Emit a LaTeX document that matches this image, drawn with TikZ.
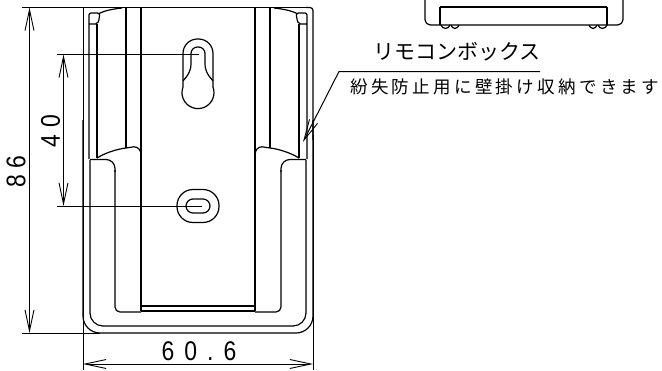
\documentclass[tikz,border=0pt]{standalone}
\usepackage{fontspec}
\setmainfont{Liberation Sans}
\newfontfamily\numfont[LetterSpace=37,FakeStretch=0.85]{Liberation Sans}
\newfontfamily\numtight[LetterSpace=24,FakeStretch=0.85]{Liberation Sans}
\newfontfamily\jpA{Noto Sans CJK JP}
\newfontfamily\jpB[LetterSpace=19]{Noto Sans CJK JP}
\usetikzlibrary{arrows.meta}
\tikzset{
  part/.style={line width=1.2pt,black,line join=round},
  thickpart/.style={line width=2pt,black},
  dimline/.style={line width=1pt,black},
  dimarrow/.style={line width=1pt,black,{Straight Barb[length=21pt,width=9pt,line width=.9pt]}-{Straight Barb[length=21pt,width=9pt,line width=.9pt]}},
  leader/.style={line width=1pt,black,{Straight Barb[length=21pt,width=9pt,line width=.9pt]}-},
  dimtext/.style={font=\fontsize{27}{27}\numfont,inner sep=0pt},
  dimtextv/.style={font=\fontsize{27}{27}\numtight,inner sep=0pt,rotate=90},
  labelA/.style={font=\fontsize{21}{21}\jpA,inner sep=0pt,anchor=west},
  labelB/.style={font=\fontsize{17.5}{17.5}\jpB,inner sep=0pt,anchor=west},
}
\begin{document}
\begin{tikzpicture}[x=1pt,y=-1pt]
\useasboundingbox (0,0) rectangle (662,370);
\fill[white] (0,0) rectangle (662,370);
% coordinates
\coordinate (dimTL) at (29.5,7.5);
\coordinate (dimBL) at (29.5,333);
\coordinate (d40T) at (63.5,54.5);
\coordinate (d40B) at (63.5,206);
\coordinate (wL) at (83,364);
\coordinate (wR) at (313,364);
% extension lines
\draw[dimline] (22,7.5) -- (306,7.5);
\draw[dimline] (22,333) -- (100,333);
\draw[dimline] (57,54.5) -- (199,54.5);
\draw[dimline] (57,206) -- (202,206);
\draw[dimline] (83,7.5) -- (83,370);
\draw[dimline] (313,135) -- (313,370);
% outer body
\draw[part,rounded corners=17pt] (83,120) -- (83,333) -- (313,333) -- (313,120);
\draw[part,rounded corners=3pt] (306,7.5) -- (313,7.5) -- (313,140);
\draw[part,rounded corners=13pt] (90,160) -- (90,326) -- (306,326) -- (306,160);
% inner U
\draw[part,rounded corners=9pt] (90,159.5) -- (115,159.5) -- (115,172);
\draw[part,rounded corners=5pt] (115,170) -- (115,312) -- (141,312);
\draw[part] (141,155) -- (141,311);
\draw[part,rounded corners=9pt] (306,159.5) -- (281,159.5) -- (281,172);
\draw[part,rounded corners=5pt] (281,170) -- (281,312) -- (255,312);
\draw[part] (255,155) -- (255,311);
\draw[part] (141,306) -- (255,306);
\draw[thickpart] (141,310.5) -- (255,310.5);
% upper verticals
\draw[part] (126,7.5) -- (126,148);
\draw[part] (141,7.5) -- (141,155);
\draw[part] (270,7.5) -- (270,148);
\draw[part] (255,7.5) -- (255,155);
% curved shoulders
\draw[part] (97,158) .. controls (105,153) and (117,149) .. (126,148) -- (134,146.8) .. controls (138,146.8) and (141,150) .. (141,155);
\draw[part] (299,158) .. controls (291,153) and (279,149) .. (270,148) -- (262,146.8) .. controls (258,146.8) and (255,150) .. (255,155);
\draw[part] (99,13.5) .. controls (105,10.5) and (113,9) .. (122,8);
\draw[part] (297,13.5) .. controls (291,10.5) and (283,9) .. (274,8);
% side strips left
\draw[part,rounded corners=2pt] (89,159) -- (89,13) -- (99.5,13) -- (99.5,18) -- (97.5,24) -- (89,24);
\draw[thickpart] (97.3,24) -- (97.3,158);
% side strips right
\draw[part,rounded corners=2pt] (307,159) -- (307,13) -- (296.5,13) -- (296.5,18) -- (298.5,24) -- (307,24);
\draw[thickpart] (298.7,24) -- (298.7,158);
% keyhole
\draw[part,rounded corners=14.5pt] (183,87) -- (183,39) -- (213,39) -- (213,87);
\draw[part] (183,87) arc[start angle=159.5,end angle=380.5,radius=16pt];
\draw[part,rounded corners=6.5pt] (183,81) -- (191,71) -- (191,47) -- (205,47) -- (205,71) -- (213,81);
% oval
\draw[part,rounded corners=16pt] (177,189.5) rectangle (219,222.5);
\draw[part,rounded corners=7pt] (186,199) rectangle (210,213);
% upper right unit
\draw[part,rounded corners=6pt] (425,-2) -- (425,25) -- (623,25) -- (623,-2);
\draw[part] (440,7) -- (607,7);
\draw[part] (440,7) -- (440,25);
\draw[part] (607,7) -- (607,25);
\draw[part] (441,25) .. controls (442,29.5) and (449,29.5) .. (450,25);
\draw[part] (451,25) .. controls (452,29.5) and (458,29.5) .. (459,25);
\draw[part] (589,25) .. controls (590,29.5) and (596,29.5) .. (597,25);
\draw[part] (598,25) .. controls (599,29.5) and (606,29.5) .. (607,25);
% dimensions
\draw[dimarrow] (dimTL) -- (dimBL);
\draw[dimarrow] (d40T) -- (d40B);
\draw[dimarrow] (wL) -- (wR);
\node[dimtext] (w) at (199,351) {60.6};
\node[dimtextv] (h40) at (50.5,131) {40};
\node[dimtextv] (h86) at (16,171.5) {86};
% leader
\coordinate (tip) at (303,142);
\coordinate (bend) at (339,71.5);
\coordinate (lend) at (540,71.5);
\draw[leader] (tip) -- (bend) -- (lend);
\node[labelA] (t1) at (373,52) {リモコンボックス};
\node[labelB] (t2) at (350,87) {紛失防止用に壁掛け収納できます};
\end{tikzpicture}
\end{document}
